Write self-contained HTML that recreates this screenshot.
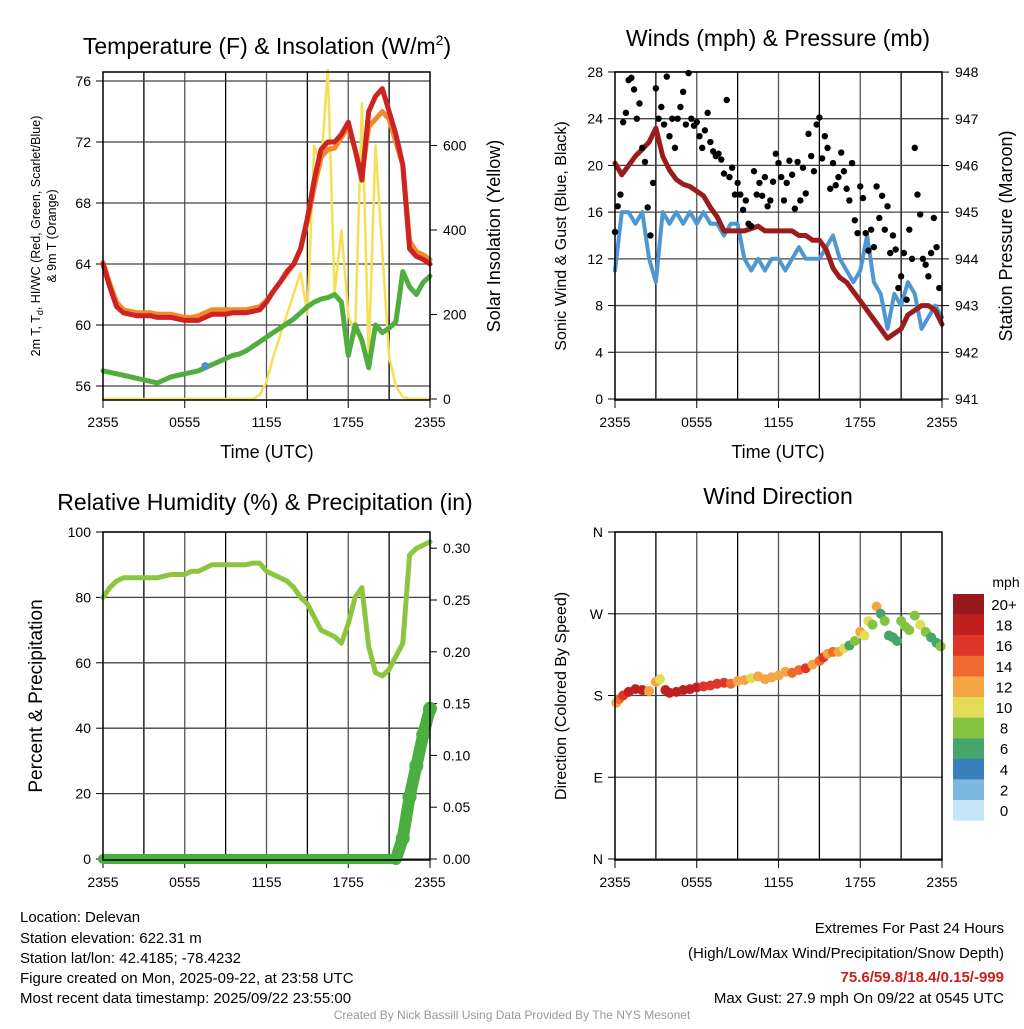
<!DOCTYPE html>
<html><head><meta charset="utf-8"><style>
body{margin:0;background:#fff;}
svg{font-family:"Liberation Sans",Arial,sans-serif;}
</style></head><body>
<svg id="chart" width="1024" height="1024" viewBox="0 0 1024 1024" xmlns="http://www.w3.org/2000/svg">
<rect width="1024" height="1024" fill="#fff"/>
<g id="g1"></g>
<g id="g2"></g>
<g id="g3"></g>
<g id="g4"></g>
<g id="info" font-size="15" fill="#000">
<text x="20" y="922">Location: Delevan</text>
<text x="20" y="943">Station elevation: 622.31 m</text>
<text x="20" y="963">Station lat/lon: 42.4185; -78.4232</text>
<text x="20" y="983">Figure created on Mon, 2025-09-22, at 23:58 UTC</text>
<text x="20" y="1003">Most recent data timestamp: 2025/09/22 23:55:00</text>
<text x="1004" y="933" text-anchor="end">Extremes For Past 24 Hours</text>
<text x="1004" y="958" text-anchor="end">(High/Low/Max Wind/Precipitation/Snow Depth)</text>
<text x="1004" y="982" text-anchor="end" fill="#c8211f" font-weight="bold">75.6/59.8/18.4/0.15/-999</text>
<text x="1004" y="1003" text-anchor="end">Max Gust: 27.9 mph On 09/22 at 0545 UTC</text>
<text x="512" y="1019" text-anchor="middle" font-size="12" fill="#999">Created By Nick Bassill Using Data Provided By The NYS Mesonet</text>
</g>
</svg>
<script>
// half-hourly samples, hours 0..24 (49 values)
const hours = Array.from({length:49},(_, i)=>i*0.5);
const xTickLabels = ["2355","0555","1155","1755","2355"];
const tempRed = [64,62.5,61.2,60.8,60.7,60.6,60.6,60.6,60.5,60.5,60.5,60.4,60.3,60.3,60.3,60.5,60.7,60.7,60.7,60.8,60.8,60.8,60.9,61,61.5,62.2,62.8,63.5,64,65,67,69.5,71.5,72,72,72.5,73.3,71.5,69.5,74,75,75.5,74,72.5,70.5,65,64.5,64.3,64];
const tempOrange = [64.1,62.7,61.5,61,60.9,60.8,60.8,60.8,60.7,60.7,60.7,60.6,60.5,60.5,60.6,60.8,61,61,61,61,61,61,61.1,61.2,61.6,62.2,62.8,63.4,64,65,66.8,69,71,71.5,71.6,72.3,73,71.5,69.8,73,73.5,74,73.5,72,70.5,65.5,64.8,64.6,64.3];
const dewGreen = [57,56.9,56.8,56.7,56.6,56.5,56.4,56.3,56.2,56.4,56.6,56.7,56.8,56.9,57,57.2,57.4,57.6,57.8,58,58.1,58.3,58.6,58.9,59.2,59.5,59.8,60.1,60.4,60.8,61.2,61.5,61.7,61.8,62,61.5,58,60,59,57.2,60,59.5,59.8,60.2,63.5,62.5,62,62.8,63.2];
const solar = [0,0,0,0,0,0,0,0,0,0,0,0,0,0,0,0,0,0,0,0,0,0,0,10,40,100,150,200,250,300,200,600,550,780,250,400,200,150,700,100,600,350,100,30,5,0,0,0,0];
const sonic = [11,16,16,15,16,12,10,16,15,16,15,16,15,16,15,15,14,15,15,12,11,12,11,12,12,11,12,13,12,12,12,13,14,12,11,10,11,14,10,9,6,9,8,10,9,6,7,8,7];
const pressure = [946.05,945.8,946.0,946.2,946.35,946.5,946.8,946.2,945.9,945.7,945.6,945.55,945.45,945.35,945.1,944.9,944.6,944.6,944.6,944.6,944.65,944.7,944.6,944.6,944.6,944.6,944.6,944.5,944.5,944.4,944.4,944.2,943.8,943.6,943.5,943.3,943.1,942.9,942.7,942.5,942.3,942.4,942.5,942.8,942.9,943.0,943.0,942.9,942.6];
const gustTimes = [0,0.2,0.4,0.6,0.8,1.0,1.2,1.4,1.6,1.8,2.0,2.2,2.4,2.6,2.8,3.0,3.2,3.4,3.6,3.8,4.0,4.2,4.4,4.6,4.8,5.0,5.2,5.4,5.6,5.8,6.0,6.2,6.4,6.6,6.8,7.0,7.2,7.4,7.6,7.8,8.0,8.2,8.4,8.6,8.8,9.0,9.2,9.4,9.6,9.8,10.0,10.2,10.4,10.6,10.8,11.0,11.2,11.4,11.6,11.8,12.0,12.2,12.4,12.6,12.8,13.0,13.2,13.4,13.6,13.8,14.0,14.2,14.4,14.6,14.8,15.0,15.2,15.4,15.6,15.8,16.0,16.2,16.4,16.6,16.8,17.0,17.2,17.4,17.6,17.8,18.0,18.2,18.4,18.6,18.8,19.0,19.2,19.4,19.6,19.8,20.0,20.2,20.4,20.6,20.8,21.0,21.2,21.4,21.6,21.8,22.0,22.2,22.4,22.6,22.8,23.0,23.2,23.4,23.6,23.8];
const gustVals = [14.3,16.5,17.5,23.7,24.5,27.3,27.5,26.5,24.0,25.3,21.5,20.3,16.4,14.0,18.5,26.6,24.0,25.0,23.5,27.6,22.5,24.0,21.5,24.0,25.0,26.3,23.5,27.9,24.0,23.4,23.7,22.5,21.5,23.0,24.5,22.0,21.2,20.8,21.0,20.5,19.3,25.6,19.0,19.8,17.5,18.5,17.5,16.2,17.0,15.0,14.8,19.5,17.5,18.5,17.4,19.0,16.5,17.0,18.6,21.0,20.2,19.0,17.0,18.5,20.4,19.2,16.3,20.3,17.0,19.8,17.6,22.7,20.8,19.5,23.5,24.1,20.6,22.5,21.5,18.0,20.2,18.3,19.0,21.1,19.5,18.0,17.0,20.2,15.3,14.2,18.2,17.2,14.2,12.7,14.5,13.0,18.2,15.5,17.4,14.5,16.5,12.5,14.0,12.8,9.5,10.5,12.5,8.5,14.5,12.0,21.5,17.5,15.8,12.0,11.5,10.5,12.5,15.5,13.0,9.5];
const rh = [80,83,85,86,86,86,86,86,86,86.5,87,87,87,88,88,89,90,90,90,90,90,90,90.5,90.5,88,87,86,85,83,80,78,74,70,69,68,66,72,80,83,65,57,56,58,62,66,93,95,96,97];
const precip = [0,0,0,0,0,0,0,0,0,0,0,0,0,0,0,0,0,0,0,0,0,0,0,0,0,0,0,0,0,0,0,0,0,0,0,0,0,0,0,0,0,0,0,0,0.02,0.06,0.09,0.12,0.145];
const dirTimes = [0.1,0.3,0.6,1.0,1.5,2.0,2.5,3.0,3.3,3.7,4.0,4.5,5.0,5.5,6.0,6.5,7.0,7.5,8.0,8.5,9.0,9.5,10.0,10.5,11.0,11.5,12.0,12.5,13.0,13.5,14.0,14.5,15.0,15.3,15.6,16.0,16.4,16.8,17.2,17.6,18.0,18.3,18.6,18.9,19.2,19.5,19.8,20.1,20.4,20.7,21.0,21.3,21.6,22.0,22.4,22.8,23.2,23.6,23.9];
const dirVals = [172,176,180,184,187,186,185,195,198,186,183,184,186,187,189,190,191,193,194,193,196,197,199,201,198,200,202,206,205,208,210,214,218,222,226,228,228,232,235,240,250,246,262,258,278,270,262,246,244,240,262,256,252,268,258,250,244,238,234];
const dirSpeed = [11,13,16,18,18,17,12,12,10,18,18,17,18,17,17,15,16,16,15,14,12,12,10,12,12,12,12,12,14,13,15,12,14,15,12,13,12,10,6,7,12,10,10,8,11,5,8,6,6,6,7,8,7,8,10,7,6,6,8];
const speedLabels = ["20+","18","16","14","12","10","8","6","4","2","0"];
const speedColors = ["#96191d","#c0201f","#de3429","#ef6a2d","#f6a544","#e3dc56","#85c441","#46a56b","#3a7fbe","#7db8e0","#c5e7f8"];

const NS="http://www.w3.org/2000/svg";
function el(p,tag,attrs,txt){const e=document.createElementNS(NS,tag);for(const k in attrs)e.setAttribute(k,attrs[k]);if(txt!==undefined)e.textContent=txt;p.appendChild(e);return e;}
function colorForSpeed(s){let i=Math.round(s/2);if(i>10)i=10;if(i<0)i=0;return speedColors[10-i];}

function frame(g,P){
  for(let i=1;i<8;i++){const x=P.x0+i*(P.x1-P.x0)/8;
    const l=el(g,'line',{x1:x,y1:P.y0,x2:x,y2:P.y1,stroke:(i%2? '#000':'#555'),'stroke-width':1.3});
    
    }
  for(let i=0;i<5;i++){const x=P.x0+i*(P.x1-P.x0)/4;
    const t=el(g,'text',{x:x,y:P.y1+27,'text-anchor':'middle','font-size':14},xTickLabels[i]);
    
    
    el(g,'line',{x1:x,y1:P.y1,x2:x,y2:P.y1+8,stroke:'#000'});}
}
function xs(P,h){return P.x0+h*(P.x1-P.x0)/24;}
function poly(g,P,xv,yv,yfn,attrs,name){
  const pts=xv.map((h,i)=>xs(P,h).toFixed(1)+','+yfn(yv[i]).toFixed(1)).join(' ');
  const p=el(g,'polyline',Object.assign({points:pts,fill:'none','stroke-linejoin':'round','stroke-linecap':'round'},attrs));
  
  
  return p;
}
function border(g,P){const r=el(g,'rect',{x:P.x0,y:P.y0,width:P.x1-P.x0,height:P.y1-P.y0,fill:'none',stroke:'#000','stroke-width':1.5});
  
  }
function yTicks(g,P,vals,yfn,side,labels,grid){
  vals.forEach((v,i)=>{const y=yfn(v);
    if(grid){el(g,'line',{x1:P.x0,y1:y,x2:P.x1,y2:y,stroke:'#444','stroke-width':1.3});}
    if(side==='l'){el(g,'line',{x1:P.x0-7,y1:y,x2:P.x0,y2:y,stroke:'#000'});
      const t=el(g,'text',{x:P.x0-12,y:y+5,'text-anchor':'end','font-size':14},labels[i]);
      
      }
    else{el(g,'line',{x1:P.x1,y1:y,x2:P.x1+7,y2:y,stroke:'#000'});
      const t=el(g,'text',{x:P.x1+13,y:y+5,'text-anchor':'start','font-size':14},labels[i]);
      
      }
  });
}
function title(g,x,y,txt,name){const t=el(g,'text',{x:x,y:y,'text-anchor':'middle','font-size':23});t.innerHTML=txt;
  
  }
function vlabel(g,x,y,txt,fs,name){const t=el(g,'text',{x:x,y:y,'text-anchor':'middle','font-size':fs,transform:`rotate(-90 ${x} ${y})`},txt);
  
  return t;}

// Panel 1
(function(){
  const g=document.getElementById('g1');const P={x0:103,x1:430,y0:72,y1:400};
  const yT=v=>386-(v-56)*15.25; const yS=v=>399-v*0.4225;
  frame(g,P);
  yTicks(g,P,[56,60,64,68,72,76],yT,'l',['56','60','64','68','72','76'],true);
  yTicks(g,P,[0,200,400,600],yS,'r',['0','200','400','600'],false);
  poly(g,P,hours,solar,yS,{stroke:'#f7df55','stroke-width':2.5},'solar-insolation-line');
  poly(g,P,hours,dewGreen,yT,{stroke:'#4fae3e','stroke-width':5},'dewpoint-line');
  poly(g,P,hours,tempOrange,yT,{stroke:'#f08a2a','stroke-width':5},'temp-9m-line');
  poly(g,P,hours,tempRed,yT,{stroke:'#cf2222','stroke-width':5},'temp-2m-line');
  const b=el(g,'circle',{cx:xs(P,7.5),cy:yT(57.3),r:4,fill:'#4a8fd0'});
  
  
  border(g,P);
  title(g,267,54,'Temperature (F) &amp; Insolation (W/m<tspan dy="-9" font-size="14">2</tspan><tspan dy="9">)</tspan>','temperature-title');
  const xl=el(g,'text',{x:267,y:458,'text-anchor':'middle','font-size':18},'Time (UTC)');
  
  
  const t=vlabel(g,40,236,'',12.5,'y-axis-title');
  t.innerHTML='2m T, T<tspan dy="3" font-size="9">d</tspan><tspan dy="-3">, HI/WC (Red, Green, Scarlet/Blue)</tspan>';
  vlabel(g,56,236,'& 9m T (Orange)',12.5,'y-axis-title-line2');
  vlabel(g,500,236,'Solar Insolation (Yellow)',18,'y2-axis-title');
})();

// Panel 2
(function(){
  const g=document.getElementById('g2');const P={x0:615,x1:942,y0:72,y1:400};
  const yW=v=>399-v*11.68; const yP=v=>399-(v-941)*46.7;
  frame(g,P);
  yTicks(g,P,[0,4,8,12,16,20,24,28],yW,'l',['0','4','8','12','16','20','24','28'],true);
  yTicks(g,P,[941,942,943,944,945,946,947,948],yP,'r',['941','942','943','944','945','946','947','948'],false);
  poly(g,P,hours,sonic,yW,{stroke:'#4f97d2','stroke-width':4},'sonic-wind-line');
  poly(g,P,hours,pressure,yP,{stroke:'#9b1c1c','stroke-width':5},'pressure-line');
  gustTimes.forEach((h,i)=>{const c=el(g,'circle',{cx:xs(P,h),cy:yW(gustVals[i]),r:3.2,fill:'#000'});
    
    });
  border(g,P);
  title(g,778,46,'Winds (mph) &amp; Pressure (mb)','wind-title');
  const xl=el(g,'text',{x:778,y:458,'text-anchor':'middle','font-size':18},'Time (UTC)');
  
  
  vlabel(g,566,236,'Sonic Wind & Gust (Blue, Black)',16,'y-axis-title');
  vlabel(g,1012,236,'Station Pressure (Maroon)',18,'y2-axis-title');
})();

// Panel 3
(function(){
  const g=document.getElementById('g3');const P={x0:103,x1:430,y0:532,y1:860};
  const yR=v=>859-v*3.27; const yPr=v=>859-v*1036;
  frame(g,P);
  yTicks(g,P,[0,20,40,60,80,100],yR,'l',['0','20','40','60','80','100'],true);
  yTicks(g,P,[0,0.05,0.1,0.15,0.2,0.25,0.3],yPr,'r',['0.00','0.05','0.10','0.15','0.20','0.25','0.30'],false);
  poly(g,P,hours,rh,yR,{stroke:'#8cc63f','stroke-width':5},'humidity-line');
  hours.forEach((h,i)=>{const c=el(g,'circle',{cx:xs(P,h),cy:yPr(precip[i]),r:precip[i]>0?7:5,fill:'#4aaf3f'});
    
    });
  poly(g,P,hours.slice(0,44),precip.slice(0,44),yPr,{stroke:'#4aaf3f','stroke-width':10},'precip-baseline');
  poly(g,P,hours.slice(43),precip.slice(43),yPr,{stroke:'#4aaf3f','stroke-width':12},'precip-rise');
  border(g,P);
  title(g,265,510,'Relative Humidity (%) &amp; Precipitation (in)','humidity-title');
  vlabel(g,42,696,'Percent & Precipitation',19,'y-axis-title');
})();

// Panel 4
(function(){
  const g=document.getElementById('g4');const P={x0:615,x1:942,y0:532,y1:860};
  const yD=v=>859-v*0.9083;
  frame(g,P);
  yTicks(g,P,[0,90,180,270,360],yD,'l',['N','E','S','W','N'],true);
  dirTimes.forEach((h,i)=>{const c=el(g,'circle',{cx:xs(P,h),cy:yD(dirVals[i]),r:5,fill:colorForSpeed(dirSpeed[i])});
    
    });
  border(g,P);
  title(g,778,504,'Wind Direction','wind-direction-title');
  vlabel(g,566,696,'Direction (Colored By Speed)',16,'y-axis-title');
  const cb=el(g,'g',{});
  
  
  speedLabels.forEach((lab,i)=>{const y=594+i*20.6;
    const r=el(cb,'rect',{x:953,y:y,width:31,height:20.8,fill:speedColors[i]});
    
    
    const t=el(cb,'text',{x:1004,y:y+16,'text-anchor':'middle','font-size':15},lab);
    
    });
  const m=el(cb,'text',{x:1006,y:587,'text-anchor':'middle','font-size':14},'mph');
  
  
})();
</script>
</body></html>
